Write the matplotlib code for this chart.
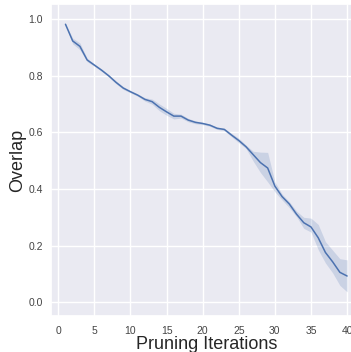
import numpy as np
import matplotlib
matplotlib.use("Agg")
import matplotlib.pyplot as plt
import seaborn as sns

# mean overlap per pruning iteration with its confidence band
iterations = np.arange(1, 41)
overlap_mean = [0.981, 0.922, 0.903, 0.855, 0.837, 0.819, 0.799, 0.776, 0.756, 0.743,
                0.731, 0.716, 0.708, 0.688, 0.672, 0.657, 0.657, 0.643, 0.635, 0.631,
                0.625, 0.614, 0.610, 0.590, 0.571, 0.549, 0.521, 0.493, 0.474, 0.410,
                0.373, 0.347, 0.311, 0.281, 0.266, 0.228, 0.176, 0.143, 0.106, 0.093]
overlap_low = [0.979, 0.912, 0.891, 0.849, 0.833, 0.815, 0.795, 0.771, 0.751, 0.739,
               0.727, 0.710, 0.699, 0.676, 0.660, 0.647, 0.650, 0.637, 0.630, 0.627,
               0.621, 0.610, 0.606, 0.584, 0.563, 0.543, 0.498, 0.458, 0.425, 0.390,
               0.361, 0.334, 0.302, 0.261, 0.248, 0.186, 0.139, 0.104, 0.060, 0.037]
overlap_high = [0.983, 0.932, 0.915, 0.861, 0.841, 0.823, 0.803, 0.781, 0.761, 0.747,
                0.735, 0.722, 0.717, 0.700, 0.684, 0.667, 0.664, 0.649, 0.640, 0.635,
                0.629, 0.618, 0.614, 0.596, 0.579, 0.555, 0.533, 0.530, 0.529, 0.425,
                0.382, 0.355, 0.322, 0.300, 0.297, 0.275, 0.214, 0.184, 0.154, 0.150]

x_ticks = [0, 5, 10, 15, 20, 25, 30, 35, 40]
y_ticks = [0.0, 0.2, 0.4, 0.6, 0.8, 1.0]

sns.set_theme(style="darkgrid")
plt.rcParams['font.family'] = ['Liberation Sans', 'DejaVu Sans']

fig = plt.figure(figsize=(3.51, 3.52), dpi=100)
ax = fig.add_axes([0.1464, 0.1023, 0.8826, 0.886])

color = sns.color_palette("deep")[0]
ax.fill_between(iterations, overlap_low, overlap_high, color=color, alpha=0.2, linewidth=0)
ax.plot(iterations, overlap_mean, color=color, linewidth=1.1)

ax.set_xlim(-0.95, 41.95)
ax.set_ylim(-0.048, 1.052)
ax.set_xticks(x_ticks)
ax.set_yticks(y_ticks)
ax.set_yticklabels(["%.1f" % v for v in y_ticks])
ax.tick_params(axis='both', length=0, labelsize=7.5, labelcolor='#444444')
ax.tick_params(axis='x', pad=7)
ax.tick_params(axis='y', pad=6)

ax.set_xlabel("Pruning Iterations", fontsize=13, labelpad=0.5)
ax.set_ylabel("Overlap", fontsize=13, labelpad=2)

fig.savefig("out.png", dpi=100)
